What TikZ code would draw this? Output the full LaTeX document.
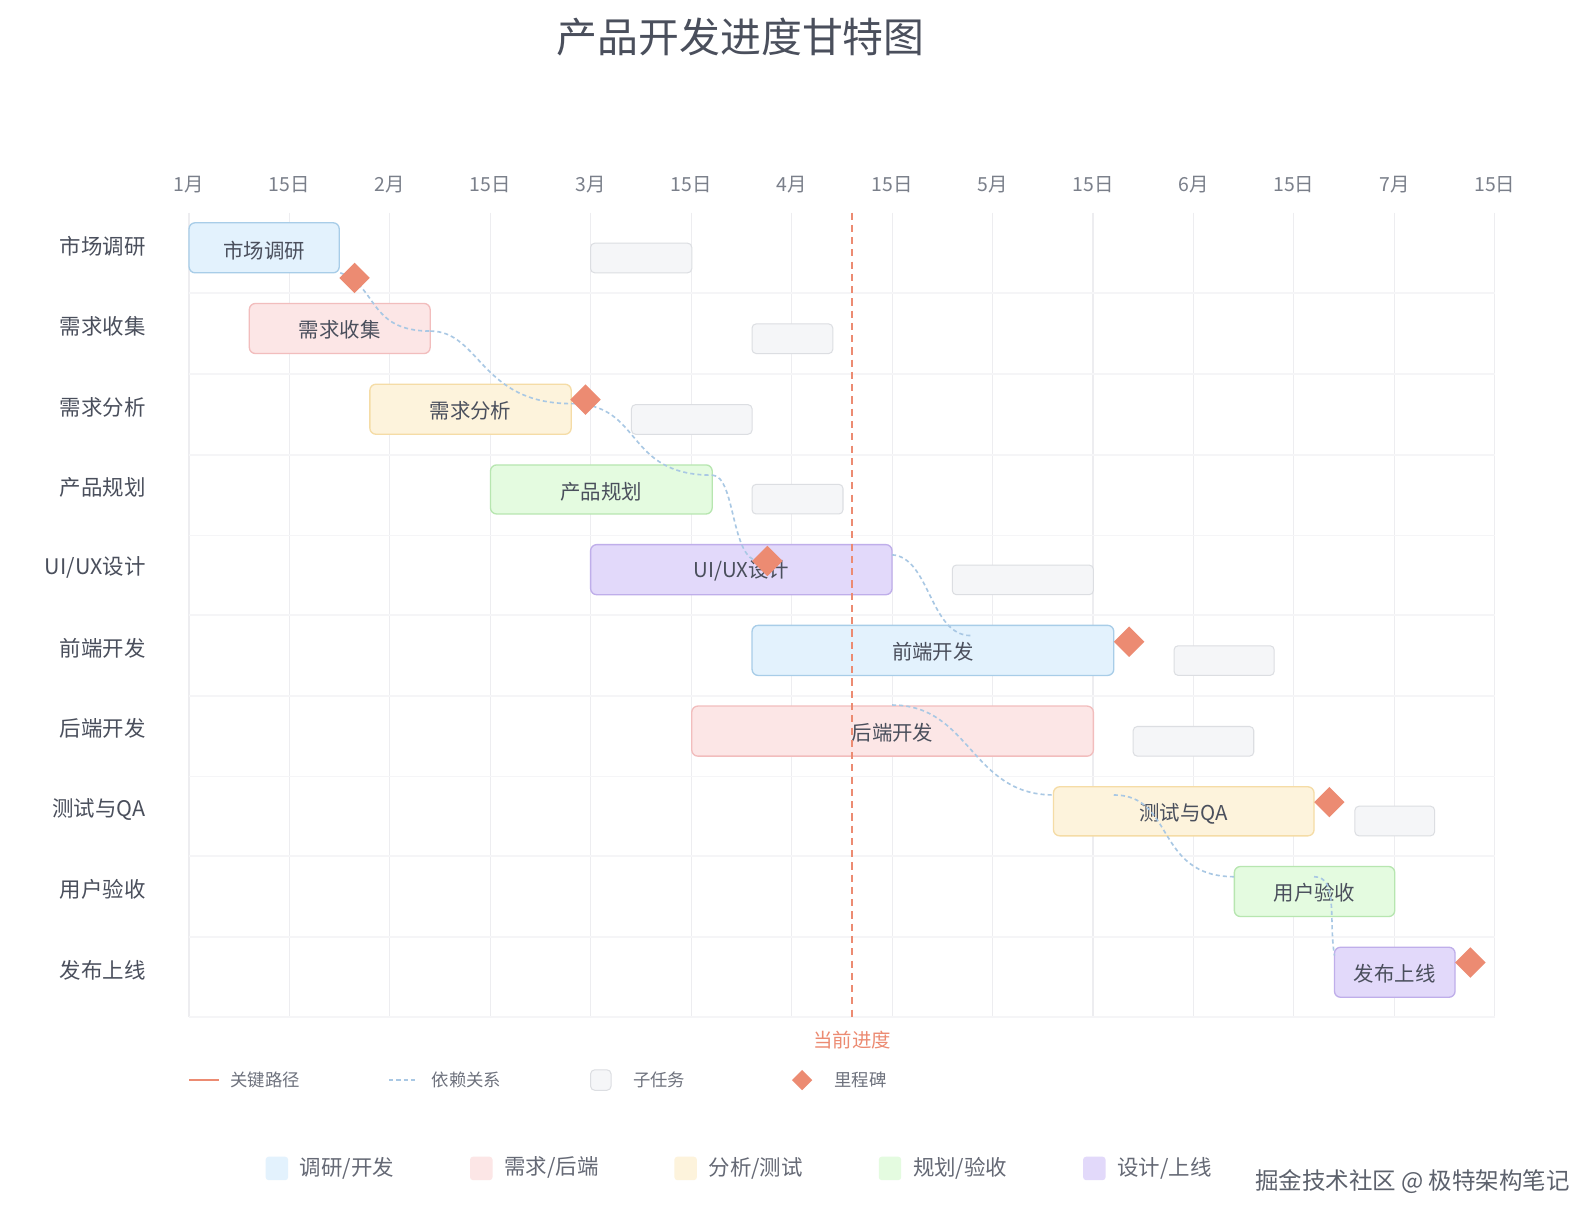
\documentclass[tikz,border=0pt]{standalone}
\usepackage{fontspec}
\setmainfont{Noto Sans CJK SC}
\usetikzlibrary{shapes.geometric}
\definecolor{gridc}{HTML}{EDEDF0}
\definecolor{txt}{HTML}{4A4F5C}
\definecolor{tick}{HTML}{7A7F8A}
\definecolor{crit}{HTML}{EC8B72}
\definecolor{dep}{HTML}{A9C8E4}
\definecolor{bF}{HTML}{E3F2FD}\definecolor{bD}{HTML}{A8CDE8}
\definecolor{pF}{HTML}{FCE6E6}\definecolor{pD}{HTML}{F2BDBD}
\definecolor{yF}{HTML}{FDF3DC}\definecolor{yD}{HTML}{F5DCA6}
\definecolor{gF}{HTML}{E4FBE0}\definecolor{gD}{HTML}{B7E6B0}
\definecolor{vF}{HTML}{E2D9FA}\definecolor{vD}{HTML}{BFAEEA}
\definecolor{sF}{HTML}{F5F6F8}\definecolor{sD}{HTML}{DCDEE2}
\tikzset{
 fnt/.style={font=\fontsize{#1}{#1}\selectfont},
 bar/.style n args={2}{draw=#2,fill=#1,rounded corners=6pt,line width=1.3pt},
 sub/.style={draw=sD,fill=sF,rounded corners=4pt,line width=1pt},
 ms/.style={diamond,fill=crit,minimum size=30pt,inner sep=0pt},
 depl/.style={draw=dep,dashed,line width=1.6pt,dash pattern=on 4pt off 3pt},
 rowlab/.style={fnt=21,text=txt,anchor=east},
 ticklab/.style={fnt=19,text=tick},
 barlab/.style={fnt=20,text=txt},
}
\begin{document}
\begin{tikzpicture}[x=1pt,y=-1pt]
\useasboundingbox (0,0) rectangle (1560,1194);
\fill[white] (0,0) rectangle (1560,1194);
\node[fnt=40,text=txt] (title) at (725,36) {产品开发进度甘特图};
% grid
\foreach \i in {0,...,13}{\draw[gridc,line width=1.1pt] ({185+98.3*\i},208) -- ({185+98.3*\i},995);}
\foreach \y in {287,366,445,524,602,681,760,838,917,995}{\draw[gridc!55,line width=1.8pt] (185,\y) -- (1463,\y);}
\foreach \t [count=\i from 0] in {1月,15日,2月,15日,3月,15日,4月,15日,5月,15日,6月,15日,7月,15日}{
 \node[ticklab] (t\i) at ({185+98.3*\i},181) {\t};}
% row labels
\foreach \t [count=\i from 0] in {市场调研,需求收集,需求分析,产品规划,UI/UX设计,前端开发,后端开发,测试与QA,用户验收,发布上线}{
 \node[rowlab] (r\i) at (146,{241+78.7*\i}) {\t};}
% subtasks
\draw[sub] (578,238) rectangle (677,267);
\draw[sub] (736,317) rectangle (815,346);
\draw[sub] (618,396) rectangle (736,425);
\draw[sub] (736,474) rectangle (825,503);
\draw[sub] (932,553) rectangle (1070,582);
\draw[sub] (1149,632) rectangle (1247,661);
\draw[sub] (1109,711) rectangle (1227,740);
\draw[sub] (1326,789) rectangle (1404,818);
% bars
\draw[bar={bF}{bD}] (185,218) rectangle (332,267); \node[barlab] (b1) at (258.5,245) {市场调研};
\draw[bar={pF}{pD}] (244,297) rectangle (421,346); \node[barlab] (b2) at (332.5,323) {需求收集};
\draw[bar={yF}{yD}] (362,376) rectangle (559,425); \node[barlab] (b3) at (460.5,402) {需求分析};
\draw[bar={gF}{gD}] (480,455) rectangle (697,503); \node[barlab] (b4) at (588.5,481) {产品规划};
\draw[bar={vF}{vD}] (578,533) rectangle (873,582); \node[barlab] (b5) at (725.5,559) {UI/UX设计};
\draw[bar={bF}{bD}] (736,612) rectangle (1090,661); \node[barlab] (b6) at (913,638) {前端开发};
\draw[bar={pF}{pD}] (677,691) rectangle (1070,740); \node[barlab] (b7) at (873.5,717) {后端开发};
\draw[bar={yF}{yD}] (1031,770) rectangle (1286,818); \node[barlab] (b8) at (1158.5,796) {测试与QA};
\draw[bar={gF}{gD}] (1208,848) rectangle (1365,897); \node[barlab] (b9) at (1286.5,874) {用户验收};
\draw[bar={vF}{vD}] (1306,927) rectangle (1424,976); \node[barlab] (b10) at (1365,953) {发布上线};
% dependency coordinates
\coordinate (d0) at (333,267);
\coordinate (d1) at (421,324);
\coordinate (d2) at (559,395);
\coordinate (d3) at (697,465);
\coordinate (d4) at (743,549);
\coordinate (e0) at (873,543);
\coordinate (e1) at (950,622);
\coordinate (f0) at (873,690);
\coordinate (f1) at (1031,778);
\coordinate (g0) at (1090,778);
\coordinate (g1) at (1208,858);
\coordinate (h0) at (1286,858);
\coordinate (h1) at (1306,935);
\draw[depl] (d0) .. controls (370,280) and (360,324) .. (d1);
\draw[depl] (d1) .. controls (470,324) and (470,395) .. (d2);
\draw[depl] (d2) .. controls (630,395) and (610,465) .. (d3);
\draw[depl] (d3) .. controls (720,465) and (715,549) .. (d4);
\draw[depl] (e0) .. controls (910,545) and (910,622) .. (e1);
\draw[depl] (f0) .. controls (950,690) and (950,778) .. (f1);
\draw[depl] (g0) .. controls (1150,778) and (1130,858) .. (g1);
\draw[depl] (h0) .. controls (1310,858) and (1300,900) .. (h1);
% milestones
\node[ms] (m1) at (347,272) {};
\node[ms] (m2) at (573,391) {};
\node[ms] (m3) at (751,549) {};
\node[ms] (m4) at (1105,628) {};
\node[ms] (m5) at (1301,785) {};
\node[ms] (m6) at (1439,942) {};
% current progress
\coordinate (cp0) at (834,208);
\node[fnt=19,text=crit] (cp) at (834,1018) {当前进度};
\draw[crit,line width=2pt,dash pattern=on 7pt off 5pt] (cp0) -- (834,995);
% legend 1
\coordinate (l1a) at (185,1057); \coordinate (l1b) at (214,1057);
\draw[crit,line width=2.5pt] (l1a) -- (l1b);
\node[fnt=17,text=txt!80,anchor=west] (L1) at (222,1057) {关键路径};
\coordinate (l2a) at (381,1057); \coordinate (l2b) at (408,1057);
\draw[depl] (l2a) -- (l2b);
\node[fnt=17,text=txt!80,anchor=west] (L2) at (419,1057) {依赖关系};
\draw[sub] (578,1047) rectangle (598,1067);
\node[fnt=17,text=txt!80,anchor=west] (L3) at (616,1057) {子任务};
\node[ms,minimum size=20pt] (L4d) at (785,1057) {};
\node[fnt=17,text=txt!80,anchor=west] (L4) at (813,1057) {里程碑};
% legend 2
\foreach \x/\c/\t in {260/bF/{调研/开发},460/pF/{需求/后端},660/yF/{分析/测试},860/gF/{规划/验收},1060/vF/{设计/上线}}{
 \fill[\c,rounded corners=3pt] (\x,1132) rectangle (\x+22,1155);
 \node[fnt=21,text=txt!85,anchor=west] at (\x+30,1143) {\t};}
\node[fnt=23,text=txt!90,anchor=east] (wm) at (1540,1156) {掘金技术社区 @ 极特架构笔记};
\end{tikzpicture}
\end{document}
